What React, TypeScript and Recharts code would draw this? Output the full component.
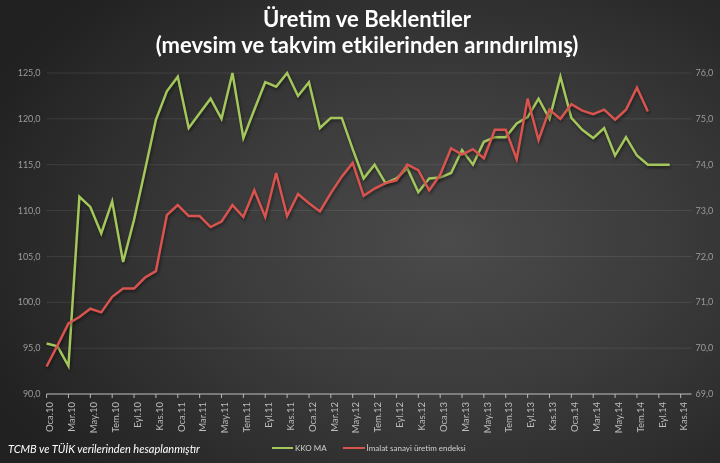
import { LineChart, Line, XAxis, YAxis, CartesianGrid } from 'recharts';

const MONTHS = ['Oca', 'Şub', 'Mar', 'Nis', 'May', 'Haz', 'Tem', 'Ağu', 'Eyl', 'Eki', 'Kas', 'Ara'];
const YEARS = ['10', '11', '12', '13', '14'];

const categories: string[] = YEARS.flatMap((y) => MONTHS.map((m) => `${m}.${y}`));

// KKO MA (right axis, %)
const kkoMa: (number | null)[] = [
  70.1, 70.04, 69.61, 73.3, 73.08, 72.5, 73.2, 71.88, 72.8, 73.88, 74.98, 75.6,
  75.92, 74.8, 75.12, 75.44, 75.0, 76.0, 74.58, 75.2, 75.8, 75.7, 76.0, 75.5,
  75.8, 74.8, 75.02, 75.02, 74.34, 73.7, 74.0, 73.6, 73.7, 73.92, 73.4, 73.7,
  73.72, 73.82, 74.32, 74.0, 74.5, 74.6, 74.6, 74.9, 75.04, 75.44, 75.0, 75.92,
  75.02, 74.76, 74.58, 74.8, 74.2, 74.6, 74.2, 74.0, 74.0, 74.0, null, null,
];

// İmalat sanayi üretim endeksi (left axis)
const imalat: (number | null)[] = [
  93.0, 95.3, 97.7, 98.4, 99.3, 98.9, 100.6, 101.5, 101.5, 102.7, 103.4, 109.5,
  110.6, 109.4, 109.4, 108.2, 108.8, 110.6, 109.3, 112.2, 109.3, 114.1, 109.4, 111.8,
  110.8, 109.9, 111.9, 113.7, 115.2, 111.6, 112.4, 113.0, 113.3, 115.0, 114.4, 112.2,
  113.9, 116.8, 116.1, 116.7, 115.7, 118.8, 118.8, 115.6, 122.2, 117.7, 121.0, 120.0,
  121.6, 120.9, 120.5, 121.0, 119.9, 121.0, 123.4, 120.8, null, null, null, null,
];

const leftTicks = [90, 95, 100, 105, 110, 115, 120, 125];
const rightTicks = [69, 70, 71, 72, 73, 74, 75, 76];

const data = categories.map((name, i) => ({ name, kko: kkoMa[i], imalat: imalat[i] }));

const GREEN = '#a3c75a';
const RED = '#d9534f';
const fmt = (v: number) => v.toFixed(1).replace('.', ',');

export default function App() {
  return (
    <div
      style={{
        position: 'fixed',
        left: 0,
        top: 0,
        width: 720,
        height: 463,
        overflow: 'hidden',
        background:
          'radial-gradient(ellipse 70% 75% at 62% 52%, #4b4b4b 0%, #3b3b3b 45%, #282828 85%, #212121 100%)',
        fontFamily: 'Lato, sans-serif',
      }}
    >
      <style>{`.ln path { filter: drop-shadow(1px 2px 1.5px rgba(0,0,0,0.45)); }`}</style>
      <div
        style={{
          position: 'absolute',
          top: 6,
          left: 0,
          width: 734,
          textAlign: 'center',
          color: '#ffffff',
          fontWeight: 700,
          fontSize: 22,
          lineHeight: '26px',
        }}
      >
        <div>Üretim ve Beklentiler</div>
        <div>(mevsim ve takvim etkilerinden arındırılmış)</div>
      </div>

      <LineChart width={720} height={463} data={data} margin={{ top: 73, right: 0, bottom: 0, left: 0 }}>
        <CartesianGrid yAxisId="left" vertical={false} stroke="rgba(255,255,255,0.09)" />
        <XAxis
          dataKey="name"
          interval={1}
          height={69}
          stroke="#b8b8b8"
          tickSize={4}
          tick={{ fill: '#bdbdbd', fontSize: 9.5, angle: -90, textAnchor: 'end', dx: 0, dy: 2 } as any}
        />
        <YAxis
          yAxisId="left"
          orientation="left"
          width={46.6}
          domain={[90, 125]}
          ticks={leftTicks}
          tickFormatter={fmt}
          axisLine={false}
          tickLine={false}
          tickSize={4}
          tick={{ fill: '#9a9a9a', fontSize: 9 }}
        />
        <YAxis
          yAxisId="right"
          orientation="right"
          width={28.4}
          domain={[69, 76]}
          ticks={rightTicks}
          tickFormatter={fmt}
          axisLine={false}
          tickLine={false}
          tickSize={2}
          tick={{ fill: '#9a9a9a', fontSize: 9 }}
        />
        <Line
          className="ln"
          yAxisId="right"
          dataKey="kko"
          stroke={GREEN}
          strokeWidth={2.5}
          dot={false}
          isAnimationActive={false}
        />
        <Line
          className="ln"
          yAxisId="left"
          dataKey="imalat"
          stroke={RED}
          strokeWidth={2.5}
          dot={false}
          isAnimationActive={false}
        />
      </LineChart>

      <div
        style={{
          position: 'absolute',
          left: 8,
          top: 442,
          color: '#ffffff',
          fontStyle: 'italic',
          fontSize: 11,
        }}
      >
        TCMB ve TÜİK verilerinden hesaplanmıştır
      </div>

      <div
        style={{
          position: 'absolute',
          left: 272,
          top: 442,
          display: 'flex',
          alignItems: 'center',
          color: '#d0d0d0',
          fontSize: 8,
          height: 12,
        }}
      >
        <span style={{ display: 'inline-block', width: 21, height: 2.5, background: GREEN, marginRight: 2 }} />
        <span style={{ marginRight: 16 }}>KKO MA</span>
        <span style={{ display: 'inline-block', width: 22, height: 2.5, background: RED, marginRight: 2 }} />
        <span>İmalat sanayi üretim endeksi</span>
      </div>
    </div>
  );
}
